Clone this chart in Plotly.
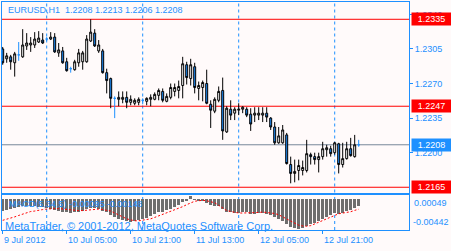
import plotly.graph_objects as go
import pandas as pd

# ---------------- data ----------------
start_time = "2012-07-09 13:00"
n_bars = 90
times = pd.date_range(start_time, periods=n_bars, freq="h")

opens = [1.2305, 1.2295, 1.2297, 1.2291, 1.2299, 1.2297, 1.2308, 1.2309, 1.2309, 1.2312,
         1.2314, 1.2315, 1.2315, 1.2317, 1.2301, 1.2303, 1.2292, 1.2285, 1.2284, 1.2291,
         1.2292, 1.2292, 1.2313, 1.2321, 1.2303, 1.2303, 1.2281, 1.2275, 1.2255, 1.2254,
         1.2254, 1.2256, 1.2251, 1.2250, 1.2251, 1.2253, 1.2252, 1.2254, 1.2254, 1.2258,
         1.2262, 1.2252, 1.2256, 1.2262, 1.2263, 1.2268, 1.2289, 1.2275, 1.2287, 1.2265,
         1.2266, 1.2270, 1.2249, 1.2242, 1.2253, 1.2263, 1.2221, 1.2244, 1.2240, 1.2243,
         1.2244, 1.2244, 1.2239, 1.2238, 1.2238, 1.2238, 1.2240, 1.2235, 1.2226, 1.2210,
         1.2210, 1.2218, 1.2188, 1.2179, 1.2182, 1.2182, 1.2182, 1.2198, 1.2196, 1.2193,
         1.2196, 1.2203, 1.2204, 1.2200, 1.2209, 1.2188, 1.2194, 1.2204, 1.2196, 1.2208]
highs = [1.2307, 1.2301, 1.2299, 1.2302, 1.2312, 1.2325, 1.2321, 1.2317, 1.2322, 1.2323,
         1.2321, 1.2317, 1.2322, 1.2321, 1.2311, 1.2307, 1.2296, 1.2287, 1.2294, 1.2305,
         1.2303, 1.2319, 1.2335, 1.2325, 1.2314, 1.2305, 1.2285, 1.2276, 1.2257, 1.2262,
         1.2262, 1.2262, 1.2258, 1.2255, 1.2256, 1.2255, 1.2256, 1.2259, 1.2261, 1.2265,
         1.2265, 1.2260, 1.2270, 1.2270, 1.2273, 1.2297, 1.2292, 1.2295, 1.2291, 1.2272,
         1.2273, 1.2284, 1.2253, 1.2256, 1.2267, 1.2276, 1.2247, 1.2253, 1.2246, 1.2250,
         1.2247, 1.2246, 1.2245, 1.2246, 1.2246, 1.2246, 1.2246, 1.2236, 1.2231, 1.2226,
         1.2228, 1.2220, 1.2196, 1.2193, 1.2193, 1.2192, 1.2213, 1.2200, 1.2200, 1.2200,
         1.2211, 1.2208, 1.2207, 1.2211, 1.2210, 1.2210, 1.2211, 1.2215, 1.2218, 1.2213]
lows = [1.2289, 1.2291, 1.2284, 1.2277, 1.2293, 1.2296, 1.2304, 1.2302, 1.2306, 1.2311,
        1.2310, 1.2313, 1.2314, 1.2301, 1.2297, 1.2290, 1.2282, 1.2281, 1.2283, 1.2287,
        1.2284, 1.2291, 1.2312, 1.2307, 1.2301, 1.2280, 1.2260, 1.2245, 1.2235, 1.2247,
        1.2250, 1.2245, 1.2248, 1.2248, 1.2248, 1.2249, 1.2248, 1.2247, 1.2253, 1.2253,
        1.2251, 1.2251, 1.2254, 1.2257, 1.2255, 1.2255, 1.2269, 1.2268, 1.2260, 1.2253,
        1.2252, 1.2249, 1.2225, 1.2240, 1.2251, 1.2213, 1.2220, 1.2233, 1.2233, 1.2238,
        1.2240, 1.2236, 1.2222, 1.2231, 1.2233, 1.2231, 1.2231, 1.2223, 1.2208, 1.2209,
        1.2209, 1.2188, 1.2169, 1.2170, 1.2172, 1.2177, 1.2180, 1.2188, 1.2188, 1.2180,
        1.2193, 1.2196, 1.2196, 1.2198, 1.2179, 1.2185, 1.2193, 1.2196, 1.2195, 1.2206]
closes = [1.2291, 1.2298, 1.2292, 1.2300, 1.2299, 1.2309, 1.2311, 1.2311, 1.2315, 1.2316,
          1.2311, 1.2315, 1.2317, 1.2302, 1.2304, 1.2291, 1.2283, 1.2285, 1.2292, 1.2301,
          1.2301, 1.2315, 1.2322, 1.2308, 1.2309, 1.2281, 1.2273, 1.2255, 1.2255, 1.2256,
          1.2256, 1.2251, 1.2254, 1.2253, 1.2254, 1.2253, 1.2255, 1.2256, 1.2259, 1.2263,
          1.2253, 1.2257, 1.2266, 1.2266, 1.2267, 1.2290, 1.2276, 1.2289, 1.2266, 1.2268,
          1.2271, 1.2250, 1.2243, 1.2254, 1.2262, 1.2222, 1.2245, 1.2238, 1.2244, 1.2244,
          1.2246, 1.2238, 1.2229, 1.2240, 1.2240, 1.2240, 1.2236, 1.2226, 1.2210, 1.2217,
          1.2223, 1.2189, 1.2179, 1.2181, 1.2187, 1.2185, 1.2199, 1.2196, 1.2193, 1.2196,
          1.2204, 1.2205, 1.2199, 1.2210, 1.2188, 1.2194, 1.2204, 1.2197, 1.2208, 1.2208]

# MACD(5,34,5) histogram (main line) and signal line
macd_main = [-0.00168, -0.00153, -0.00146, -0.00124, -0.00110, -0.00095, -0.00095, -0.00095, -0.00103, -0.00110,
             -0.00110, -0.00124, -0.00139, -0.00153, -0.00168, -0.00182, -0.00196, -0.00204, -0.00196, -0.00182,
             -0.00168, -0.00146, -0.00124, -0.00124, -0.00139, -0.00168, -0.00196, -0.00240, -0.00269, -0.00297,
             -0.00312, -0.00326, -0.00334, -0.00326, -0.00312, -0.00297, -0.00283, -0.00254, -0.00225, -0.00196,
             -0.00182, -0.00160, -0.00139, -0.00110, -0.00088, -0.00038, -0.00016, 0.00049, -0.00009, -0.00023,
             -0.00030, -0.00052, -0.00081, -0.00095, -0.00103, -0.00139, -0.00182, -0.00196, -0.00204, -0.00204,
             -0.00196, -0.00196, -0.00218, -0.00218, -0.00211, -0.00211, -0.00218, -0.00240, -0.00269, -0.00297,
             -0.00319, -0.00370, -0.00406, -0.00420, -0.00442, -0.00420, -0.00391, -0.00370, -0.00348, -0.00326,
             -0.00290, -0.00261, -0.00240, -0.00211, -0.00218, -0.00204, -0.00175, -0.00153, -0.00124, -0.00095]
macd_signal = [-0.00312, -0.00297, -0.00283, -0.00261, -0.00240, -0.00218, -0.00196, -0.00182, -0.00175, -0.00160,
               -0.00153, -0.00146, -0.00139, -0.00139, -0.00139, -0.00146, -0.00153, -0.00160, -0.00168, -0.00168,
               -0.00168, -0.00160, -0.00153, -0.00146, -0.00146, -0.00153, -0.00160, -0.00175, -0.00204, -0.00233,
               -0.00261, -0.00290, -0.00305, -0.00319, -0.00319, -0.00312, -0.00305, -0.00290, -0.00269, -0.00247,
               -0.00225, -0.00204, -0.00182, -0.00160, -0.00139, -0.00110, -0.00081, -0.00052, -0.00030, -0.00023,
               -0.00016, -0.00023, -0.00038, -0.00052, -0.00090, -0.00125, -0.00168, -0.00182, -0.00196, -0.00204,
               -0.00204, -0.00204, -0.00204, -0.00204, -0.00196, -0.00190, -0.00196, -0.00204, -0.00211, -0.00230,
               -0.00261, -0.00290, -0.00326, -0.00355, -0.00384, -0.00395, -0.00400, -0.00390, -0.00365, -0.00340,
               -0.00320, -0.00290, -0.00265, -0.00235, -0.00215, -0.00205, -0.00200, -0.00185, -0.00165, -0.00148]

title_text = "EURUSD,H1"
ohlc_now = [1.2208, 1.2213, 1.2206, 1.2208]
macd_label = "MACD(5,34,5)"
macd_now = [-0.00095, -0.00148]
copyright_text = "MetaTrader, © 2001-2012, MetaQuotes Software Corp."

price_ticks = [1.2340, 1.2305, 1.2270, 1.2235, 1.2200]
red_levels = [1.2335, 1.2247, 1.2165]
bid_level = 1.2208
time_tick_times = ["2012-07-09 13:00", "2012-07-10 05:00", "2012-07-10 21:00",
                   "2012-07-11 13:00", "2012-07-12 05:00", "2012-07-12 21:00"]
time_tick_labels = ["9 Jul 2012", "10 Jul 05:00", "10 Jul 21:00",
                    "11 Jul 13:00", "12 Jul 05:00", "12 Jul 21:00"]
day_separators = ["2012-07-10 00:00", "2012-07-11 00:00", "2012-07-12 00:00", "2012-07-13 00:00"]

# ---------------- styling ----------------
W, H = 451, 251
BLUE = "#1e90ff"
BG = "#fffafa"
FONT = "Liberation Sans"


def px(x):
    return x / W


def py(y):
    return 1 - y / H


is_doji = [o == c for o, c in zip(opens, closes)]
def pick(vals, want):
    return [v if d == want else None for v, d in zip(vals, is_doji)]

fig = go.Figure()
fig.add_trace(go.Candlestick(
    x=times, open=pick(opens, False), high=pick(highs, False),
    low=pick(lows, False), close=pick(closes, False),
    increasing=dict(line=dict(color="black", width=1), fillcolor="white"),
    decreasing=dict(line=dict(color="black", width=1), fillcolor=BLUE),
    whiskerwidth=0, xaxis="x", yaxis="y", showlegend=False, hoverinfo="skip"))
fig.add_trace(go.Candlestick(
    x=times, open=pick(opens, True), high=pick(highs, True),
    low=pick(lows, True), close=pick(closes, True),
    increasing=dict(line=dict(color=BLUE, width=1), fillcolor=BLUE),
    decreasing=dict(line=dict(color=BLUE, width=1), fillcolor=BLUE),
    whiskerwidth=0, xaxis="x", yaxis="y", showlegend=False, hoverinfo="skip"))

fig.add_trace(go.Bar(x=times, y=macd_main, marker=dict(color="#6e6e6e", line=dict(width=0)),
                     width=0.72 * 3600 * 1000, xaxis="x2", yaxis="y2", showlegend=False))
fig.add_trace(go.Scatter(x=times, y=macd_signal, mode="lines",
                         line=dict(color="red", width=1, dash="2px,2px"),
                         xaxis="x2", yaxis="y2", showlegend=False))

t0 = pd.Timestamp(start_time)
x_range = [str(t0 - pd.Timedelta(hours=0.175)), str(t0 + pd.Timedelta(hours=101.575))]

axis_common = dict(showline=True, mirror=True, linecolor=BLUE, linewidth=1,
                   showgrid=False, zeroline=False)

fig.update_layout(
    width=W, height=H, margin=dict(l=0, r=0, t=0, b=0),
    paper_bgcolor=BG, plot_bgcolor=BG, showlegend=False,
    bargap=0, boxgap=0.3,
    font=dict(family=FONT, size=9, color=BLUE),
    xaxis=dict(domain=[px(2), px(409)], range=x_range, type="date", anchor="y",
               showticklabels=False, ticks="", rangeslider=dict(visible=False), **axis_common),
    yaxis=dict(domain=[py(192.5), py(2)], range=[1.21597, 1.23525], side="right", anchor="x",
               tickvals=price_ticks, ticktext=[f"{v:.4f}" for v in price_ticks],
               ticks="outside", ticklen=3, tickcolor=BLUE,
               tickfont=dict(family=FONT, size=9, color=BLUE), **axis_common),
    xaxis2=dict(domain=[px(2), px(409)], range=x_range, type="date", anchor="y2", matches="x",
                tickvals=time_tick_times, ticks="outside", ticklen=3, tickcolor=BLUE,
                showticklabels=False, **axis_common),
    yaxis2=dict(domain=[py(230), py(195)], range=[-0.00455, 0.00062], side="right", anchor="x2",
                showticklabels=False, ticks="", **axis_common),
)

shapes = []
for d in day_separators:
    shapes.append(dict(type="line", xref="x", x0=d, x1=d, yref="paper", y0=py(192.5), y1=py(2),
                       line=dict(color=BLUE, width=1, dash="3px,3px"), layer="below"))
    shapes.append(dict(type="line", xref="x2", x0=d, x1=d, yref="paper", y0=py(230), y1=py(195),
                       line=dict(color=BLUE, width=1, dash="3px,3px"), layer="below"))
for lv in red_levels:
    shapes.append(dict(type="line", xref="x domain", x0=0, x1=1, yref="y", y0=lv, y1=lv,
                       line=dict(color="red", width=1), layer="below"))
shapes.append(dict(type="line", xref="x domain", x0=0, x1=1, yref="y", y0=bid_level, y1=bid_level,
                   line=dict(color="#778899", width=1), layer="below"))
fig.update_layout(shapes=shapes)

ann = []
ann.append(dict(text=title_text + "\u00a0\u00a0" + " ".join(f"{v:.4f}" for v in ohlc_now),
                x=px(6), y=py(10), xref="paper", yref="paper", xanchor="left", yanchor="middle",
                showarrow=False, font=dict(size=9, color=BLUE)))
ann.append(dict(text=macd_label + " " + " ".join(f"{v:.5f}" for v in macd_now),
                x=px(7), y=py(204), xref="paper", yref="paper", xanchor="left", yanchor="middle",
                showarrow=False, font=dict(size=9, color=BLUE)))
ann.append(dict(text=copyright_text, x=px(3), y=py(225.5), xref="paper", yref="paper",
                xanchor="left", yanchor="middle", showarrow=False, font=dict(size=11, color=BLUE)))
for t, lab in zip(time_tick_times, time_tick_labels):
    ann.append(dict(text=lab, x=t, xref="x2", y=py(240), yref="paper", xanchor="left",
                    yanchor="middle", xshift=-1, showarrow=False, font=dict(size=9, color=BLUE)))
ann.append(dict(text=f"{max(macd_main):.5f}", x=px(412), xref="paper", y=max(macd_main), yref="y2",
                xanchor="left", yanchor="top", showarrow=False, font=dict(size=9, color=BLUE)))
ann.append(dict(text=f"{min(macd_main):.5f}", x=px(411), xref="paper", y=min(macd_main), yref="y2",
                xanchor="left", yanchor="bottom", showarrow=False, font=dict(size=9, color=BLUE)))
for lv in red_levels:
    ann.append(dict(text=f"{lv:.4f}", x=px(411), xref="paper", y=lv, yref="y", xanchor="left",
                    yanchor="middle", showarrow=False, bgcolor="red", width=37, height=10,
                    borderpad=1, font=dict(size=9, color="white")))
ann.append(dict(text=f"{bid_level:.4f}", x=px(411), xref="paper", y=bid_level, yref="y", xanchor="left",
                yanchor="middle", showarrow=False, bgcolor=BLUE, width=37, height=10,
                borderpad=1, font=dict(size=9, color="white")))
fig.update_layout(annotations=ann)

fig.write_html("out.html")
